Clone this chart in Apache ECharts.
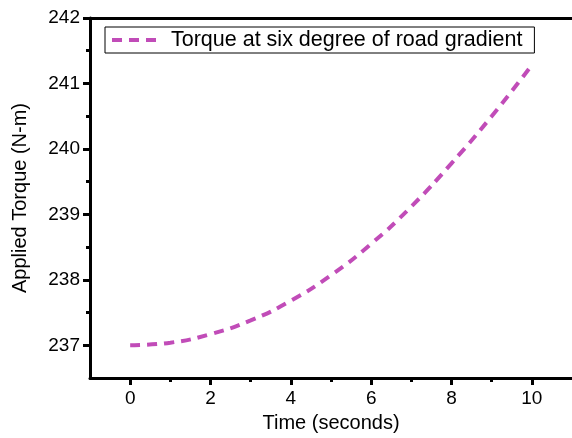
<!DOCTYPE html>
<html>
<head>
<meta charset="utf-8">
<script src="https://cdn.jsdelivr.net/npm/echarts@6/dist/echarts.min.js"></script>
<style>
  html, body { margin: 0; padding: 0; background: #fff; }
  #chart { width: 572px; height: 438px; }
</style>
</head>
<body>
<div id="chart"></div>
<script>
// time in seconds and torque
const timeSec = [0, 1, 2, 3, 4, 5, 6, 7, 8, 9, 10];
const torque = [237.00, 237.04, 237.17, 237.38, 237.68, 238.07, 238.55, 239.12, 239.78, 240.50, 241.28];

const xMajor = [0, 2, 4, 6, 8, 10];
const xMinor = [1, 3, 5, 7, 9];
const yMajor = [237, 238, 239, 240, 241, 242];
const yMinor = [237.5, 238.5, 239.5, 240.5, 241.5];

const seriesName = 'Torque at six degree of road gradient';
const lineColor = '#c14cb8';
const font = 'Liberation Sans, Arial, sans-serif';

const chart = echarts.init(document.getElementById('chart'), null, { renderer: 'canvas' });

const axisLine = { show: true, onZero: false, lineStyle: { color: '#000', width: 3 } };
const hiddenLine = { show: false, onZero: false };

const option = {
    animation: false,
    backgroundColor: '#fff',
    grid: { left: 90, top: 18, bottom: 59, right: -3 },
    legend: {
        left: 105,
        top: 27,
        itemWidth: 46,
        itemHeight: 10,
        padding: [2, 12, 2, 5],
        borderColor: '#000',
        borderWidth: 1,
        borderRadius: 0,
        itemStyle: { color: 'transparent', borderWidth: 0 },
        lineStyle: { width: 4, type: [10, 7] },
        textStyle: { fontFamily: font, fontSize: 21.5, color: '#000', padding: [0, 0, 0, 8] },
        data: [seriesName],
    },
    xAxis: [
        {
            type: 'value',
            min: -1,
            max: 11,
            position: 'bottom',
            name: 'Time (seconds)',
            nameLocation: 'middle',
            nameGap: 35,
            nameTextStyle: { fontFamily: font, fontSize: 20, color: '#000' },
            axisLine,
            axisTick: { show: true, customValues: xMajor, length: 7, lineStyle: { color: '#000', width: 3 } },
            axisLabel: { customValues: xMajor, fontFamily: font, fontSize: 19, color: '#000', margin: 11 },
            splitLine: { show: false },
        },
        {
            type: 'value',
            min: -1,
            max: 11,
            position: 'bottom',
            axisLine: hiddenLine,
            axisTick: { show: true, customValues: xMinor, length: 4, lineStyle: { color: '#000', width: 3 } },
            axisLabel: { show: false },
            splitLine: { show: false },
        },
        {
            type: 'value',
            min: -1,
            max: 11,
            position: 'top',
            axisLine,
            axisTick: { show: false },
            axisLabel: { show: false },
            splitLine: { show: false },
        },
    ],
    yAxis: [
        {
            type: 'value',
            min: 236.5,
            max: 242,
            name: 'Applied Torque (N-m)',
            nameLocation: 'middle',
            nameGap: 60,
            nameTextStyle: { fontFamily: font, fontSize: 20, color: '#000' },
            axisLine,
            axisTick: { show: true, customValues: yMajor, length: 7, lineStyle: { color: '#000', width: 3 } },
            axisLabel: { customValues: yMajor, fontFamily: font, fontSize: 19, color: '#000', margin: 10 },
            splitLine: { show: false },
        },
        {
            type: 'value',
            min: 236.5,
            max: 242,
            position: 'left',
            axisLine: hiddenLine,
            axisTick: { show: true, customValues: yMinor, length: 4, lineStyle: { color: '#000', width: 3 } },
            axisLabel: { show: false },
            splitLine: { show: false },
        },
    ],
    series: [
        {
            name: seriesName,
            type: 'line',
            xAxisIndex: 0,
            yAxisIndex: 0,
            data: timeSec.map((t, i) => [t, torque[i]]),
            smooth: true,
            symbol: 'none',
            lineStyle: { color: lineColor, width: 4, type: [10, 7] },
            itemStyle: { color: lineColor },
        },
    ],
};

chart.setOption(option);
</script>
</body>
</html>
